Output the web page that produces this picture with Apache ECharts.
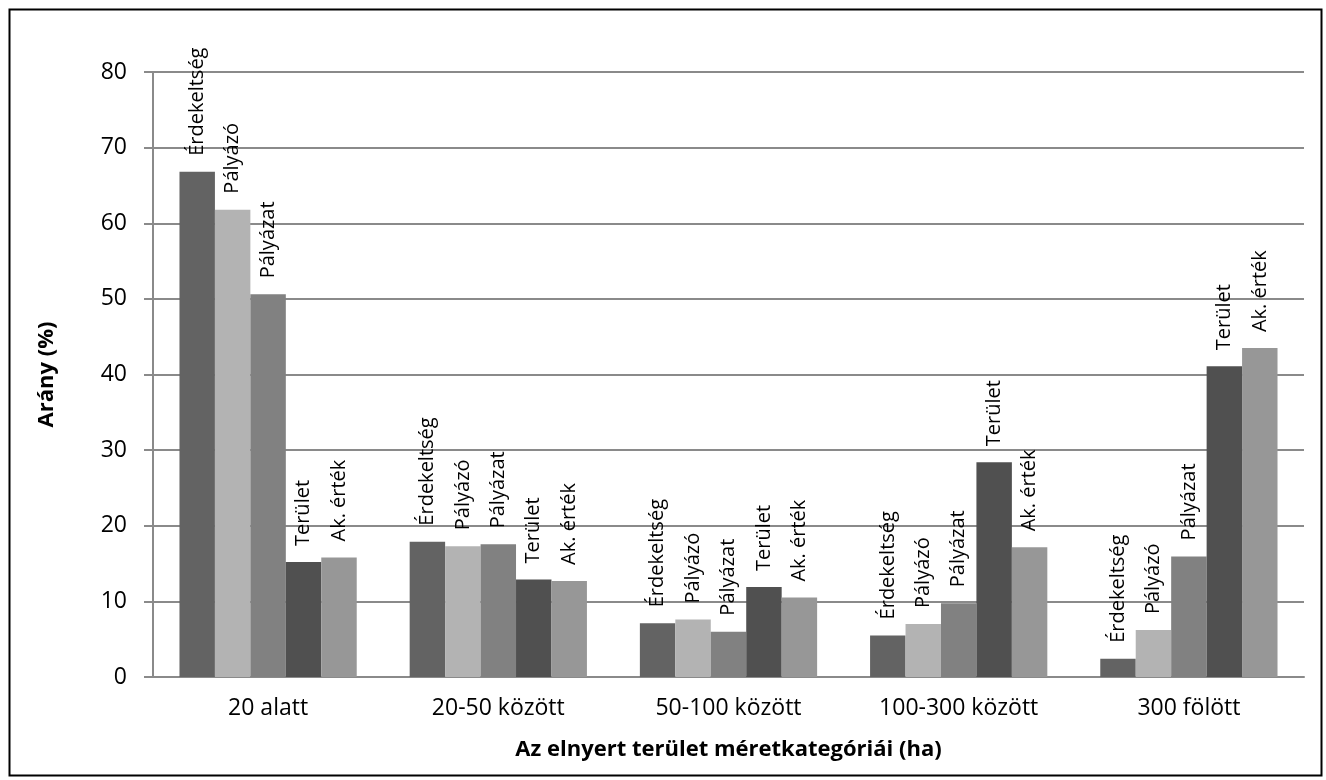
<!DOCTYPE html>
<html>
<head>
<meta charset="utf-8">
<script src="https://cdn.jsdelivr.net/npm/echarts@6/dist/echarts.min.js"></script>
<style>
html,body{margin:0;padding:0;background:#fff;}
#c{width:1326px;height:780px;}
</style>
</head>
<body>
<div id="c"></div>
<script>
const categories = ['20 alatt', '20-50 között', '50-100 között', '100-300 között', '300 fölött'];
const seriesNames = ['Érdekeltség', 'Pályázó', 'Pályázat', 'Terület', 'Ak. érték'];
const erdekeltseg = [66.8, 17.9, 7.1, 5.5, 2.4];
const palyazo = [61.8, 17.3, 7.6, 7.0, 6.2];
const palyazat = [50.6, 17.55, 6.0, 9.75, 15.95];
const terulet = [15.2, 12.9, 11.9, 28.4, 41.1];
const akErtek = [15.8, 12.7, 10.5, 17.15, 43.5];
const yTicks = [0, 10, 20, 30, 40, 50, 60, 70, 80];

const values = [erdekeltseg, palyazo, palyazat, terulet, akErtek];
const colors = ['#636363', '#b3b3b3', '#818181', '#505050', '#979797'];
const FONT = '"Open Sans", sans-serif';

const chart = echarts.init(document.getElementById('c'), null, {renderer: 'canvas'});
chart.setOption({
  animation: false,
  backgroundColor: '#fff',
  grid: {left: 153, right: 22, top: 72, bottom: 103, containLabel: false},
  graphic: [{
    type: 'rect', left: 7, top: 7, z: 100, silent: true,
    shape: {width: 1312, height: 766},
    style: {fill: 'none', stroke: '#000', lineWidth: 2}
  }],
  xAxis: {
    type: 'category',
    data: categories,
    axisLine: {lineStyle: {color: '#8a8a8a', width: 2}},
    axisTick: {show: false},
    axisLabel: {color: '#000', fontFamily: FONT, fontSize: 23, margin: 20},
    name: 'Az elnyert terület méretkategóriái (ha)',
    nameLocation: 'middle',
    nameGap: 62,
    nameTextStyle: {color: '#000', fontFamily: FONT, fontSize: 22, fontWeight: 'bold'}
  },
  yAxis: {
    type: 'value',
    min: yTicks[0], max: yTicks[yTicks.length - 1], interval: 10,
    axisLine: {show: true, lineStyle: {color: '#8a8a8a', width: 2}},
    axisTick: {show: true, length: 9, lineStyle: {color: '#8a8a8a', width: 2}},
    splitLine: {lineStyle: {color: '#8a8a8a', width: 2}},
    axisLabel: {color: '#000', fontFamily: FONT, fontSize: 23, margin: 26},
    name: 'Arány (%)',
    nameLocation: 'middle',
    nameGap: 95,
    nameRotate: 90,
    nameTextStyle: {color: '#000', fontFamily: FONT, fontSize: 22, fontWeight: 'bold'}
  },
  series: seriesNames.map((n, i) => ({
    name: n,
    type: 'bar',
    data: values[i],
    barGap: '0%',
    barCategoryGap: '23%',
    itemStyle: {color: colors[i]},
    label: {
      show: true,
      position: 'top',
      rotate: 90,
      align: 'left',
      verticalAlign: 'middle',
      distance: 16,
      formatter: n,
      color: '#000',
      fontFamily: FONT,
      fontSize: 20
    }
  }))
});
</script>
</body>
</html>
